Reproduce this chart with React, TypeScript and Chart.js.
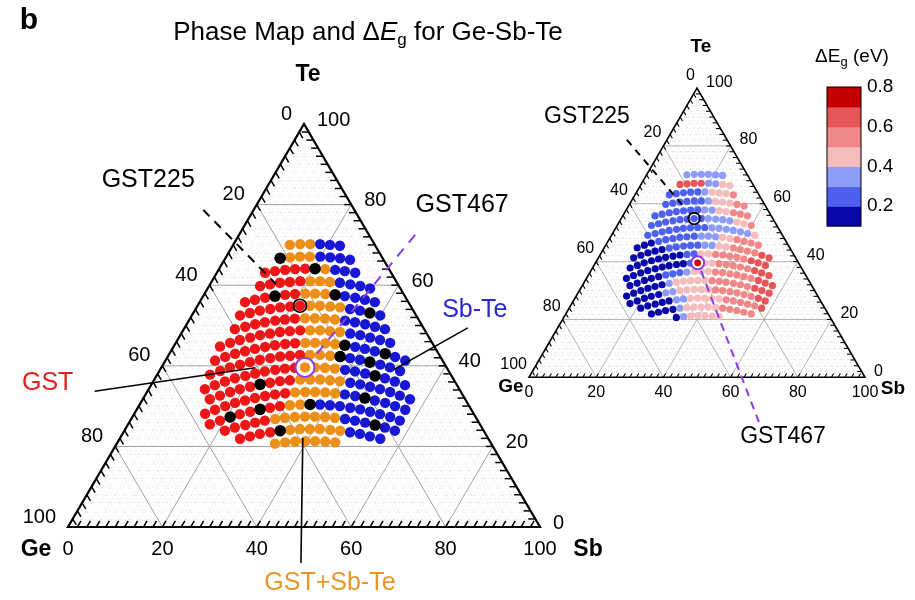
import React, { useEffect, useRef } from "react";
import { Chart, registerables } from "chart.js";

Chart.register(...registerables);

type Comp = [number, number]; // [Sb at.%, Te at.%]  (Ge = 100 - Sb - Te)

const row01: Comp[] = [[12.0,70.0],[14.1,70.2],[16.2,70.2],[18.3,70.2],[20.5,70.0],[22.7,69.8]];
const row02: Comp[] = [[11.6,66.7],[13.6,66.9],[15.6,67.1],[17.7,67.1],[19.9,67.1],[22.1,66.9],[24.3,66.7],[26.6,66.3]];
const row03: Comp[] = [[10.2,63.1],[12.1,63.5],[14.1,63.8],[16.1,64.0],[18.2,64.1],[20.3,64.1],[22.5,64.0],[24.7,63.8],[26.9,63.5],[29.3,63.1]];
const row04: Comp[] = [[10.8,59.8],[12.7,60.2],[14.6,60.6],[16.6,60.8],[18.7,61.0],[20.8,61.0],[22.9,61.0],[25.1,60.8],[27.3,60.6],[29.7,60.2],[32.0,59.8],[34.4,59.2]];
const row05: Comp[] = [[9.6,55.8],[11.4,56.4],[13.3,56.9],[15.2,57.3],[17.2,57.6],[19.2,57.8],[21.3,57.9],[23.4,57.9],[25.6,57.8],[27.8,57.6],[30.0,57.3],[32.4,56.9],[34.7,56.4],[37.1,55.8]];
const row06: Comp[] = [[10.2,52.5],[12.0,53.1],[13.8,53.7],[15.8,54.1],[17.7,54.5],[19.7,54.7],[21.7,54.9],[23.8,54.9],[25.9,54.9],[28.2,54.7],[30.4,54.5],[32.7,54.1],[35.0,53.7],[37.4,53.1],[39.9,52.5]];
const row07: Comp[] = [[10.8,49.1],[12.7,49.7],[14.5,50.3],[16.3,50.8],[18.3,51.2],[20.2,51.5],[22.2,51.7],[24.3,51.8],[26.4,51.8],[28.6,51.7],[30.8,51.5],[33.1,51.2],[35.4,50.8],[37.8,50.3],[40.2,49.7],[42.6,49.1]];
const row08: Comp[] = [[9.8,44.8],[11.5,45.7],[13.2,46.4],[15.1,47.0],[16.9,47.6],[18.8,48.0],[20.7,48.4],[22.7,48.6],[24.8,48.8],[26.9,48.8],[29.0,48.8],[31.2,48.6],[33.4,48.4],[35.8,48.0],[38.1,47.6],[40.5,47.0],[42.9,46.4],[45.4,45.7]];
const row09: Comp[] = [[10.5,41.3],[12.2,42.2],[13.9,43.0],[15.7,43.6],[17.5,44.2],[19.4,44.7],[21.3,45.1],[23.3,45.4],[25.3,45.6],[27.4,45.7],[29.5,45.7],[31.7,45.6],[33.9,45.4],[36.1,45.1],[38.5,44.7],[40.8,44.2],[43.2,43.6],[45.7,43.0],[48.2,42.2],[50.8,41.3]];
const row10: Comp[] = [[11.2,37.8],[12.9,38.7],[14.5,39.6],[16.3,40.3],[18.1,40.9],[19.9,41.5],[21.9,41.9],[23.8,42.3],[25.8,42.5],[27.8,42.7],[29.9,42.7],[32.0,42.7],[34.3,42.5],[36.5,42.3],[38.8,41.9],[41.1,41.5],[43.5,40.9],[46.0,40.3],[48.4,39.6],[51.0,38.7]];
const row11: Comp[] = [[11.9,34.2],[13.5,35.2],[15.2,36.1],[16.9,36.9],[18.8,37.5],[20.6,38.1],[22.4,38.6],[24.4,39.0],[26.3,39.3],[28.3,39.5],[30.4,39.6],[32.5,39.6],[34.7,39.5],[36.9,39.3],[39.2,39.0],[41.5,38.6],[43.9,38.1],[46.3,37.5],[48.7,36.9],[51.2,36.1],[53.8,35.2]];
const row12: Comp[] = [[14.2,31.7],[15.9,32.6],[17.6,33.5],[19.3,34.2],[21.2,34.8],[23.0,35.4],[24.9,35.8],[26.8,36.2],[28.8,36.4],[30.9,36.6],[33.0,36.6],[35.1,36.6],[37.3,36.4],[39.5,36.2],[41.9,35.8],[44.2,35.4],[46.6,34.8],[49.0,34.2],[51.5,33.5],[54.0,32.6],[56.6,31.7]];
const row13: Comp[] = [[15.0,28.1],[16.6,29.1],[18.3,30.0],[20.0,30.8],[21.8,31.4],[23.6,32.0],[25.5,32.5],[27.4,32.9],[29.4,33.2],[31.4,33.4],[33.5,33.5],[35.6,33.5],[37.8,33.4],[40.0,33.2],[42.2,32.9],[44.6,32.5],[46.9,32.0],[49.3,31.4],[51.8,30.8],[54.3,30.0],[56.9,29.1]];
const row14: Comp[] = [[17.3,25.5],[19.0,26.4],[20.7,27.3],[22.4,28.0],[24.3,28.6],[26.1,29.2],[28.0,29.6],[29.9,30.0],[31.9,30.2],[34.0,30.4],[36.1,30.4],[38.2,30.4],[40.4,30.2],[42.6,30.0],[45.0,29.6],[47.3,29.2],[49.7,28.6],[52.1,28.0],[54.6,27.3],[57.1,26.4]];
const row15: Comp[] = [[21.3,23.9],[23.0,24.7],[24.9,25.3],[26.7,25.9],[28.5,26.4],[30.5,26.8],[32.4,27.1],[34.4,27.3],[36.5,27.4],[38.6,27.4],[40.8,27.3],[43.0,27.1],[45.3,26.8],[47.6,26.4],[50.0,25.9],[52.4,25.3],[54.8,24.7],[57.3,23.9]];
const row16: Comp[] = [[25.5,21.9],[27.3,22.5],[29.1,23.1],[31.1,23.5],[33.0,23.9],[35.0,24.1],[37.0,24.3],[39.1,24.3],[41.2,24.3],[43.5,24.1],[45.7,23.9],[48.0,23.5],[50.3,23.1],[52.7,22.5],[55.2,21.9]];
const row17: Comp[] = [[33.5,20.7],[35.5,21.0],[37.5,21.2],[39.6,21.3],[41.7,21.3],[43.9,21.2],[46.1,21.0]];

const compositionRows: Comp[][] = [row01,row02,row03,row04,row05,row06,row07,row08,row09,row10,row11,row12,row13,row14,row15,row16,row17];

// phase per point: R = GST, O = GST+Sb-Te, B = Sb-Te, K = unassigned (black)
const phaseRows: string[] = [
  "OOOBBB",
  "KOOOBBBB",
  "RRRRRKOBBB",
  "RRRRROOOBBBB",
  "RRRKRROOOKBBBB",
  "RRRRRRROOOOBBKB",
  "RRRRRRROOOOBBBBB",
  "RRRRRRRRROOOOBBBBB",
  "RRRRRRRRROOOOKBBBKBB",
  "RRRRRRRRRROOOKBBKBBB",
  "RRRRRRRRRROOOOBBBKBBB",
  "RRRRRKRRROOOOOBBBBBBB",
  "RRRRRRRRROOOOOBBKBBBB",
  "RRKRRKRROOKBBBBBBBBB",
  "RRRRROOOOOOOBBBKBB",
  "RRRRKOOOOOOBBBB",
  "OOOOOOO",
];

// band-gap change ΔEg (eV) per point
const deltaEgRows: number[][] = [
  [0.33,0.34,0.35,0.36,0.37,0.38],
  [0.66,0.67,0.65,0.62,0.36,0.35,0.43,0.45],
  [0.28,0.27,0.27,0.28,0.29,0.31,0.43,0.47,0.48,0.50],
  [0.26,0.26,0.27,0.27,0.28,0.29,0.31,0.44,0.47,0.49,0.51,0.53],
  [0.25,0.26,0.26,0.27,0.27,0.28,0.29,0.31,0.36,0.45,0.48,0.50,0.52,0.54],
  [0.24,0.25,0.26,0.27,0.27,0.28,0.29,0.29,0.30,0.31,0.33,0.37,0.45,0.48,0.51],
  [0.20,0.23,0.25,0.26,0.27,0.28,0.28,0.29,0.29,0.30,0.31,0.32,0.34,0.36,0.38,0.42],
  [0.15,0.16,0.17,0.21,0.24,0.26,0.27,0.28,0.29,0.30,0.31,0.36,0.45,0.48,0.51,0.53,0.55,0.57],
  [0.13,0.14,0.15,0.16,0.18,0.21,0.24,0.26,0.27,0.29,0.31,0.35,0.46,0.49,0.52,0.54,0.56,0.58,0.61,0.63],
  [0.12,0.13,0.14,0.14,0.15,0.16,0.17,0.18,0.22,0.26,0.47,0.49,0.51,0.53,0.55,0.56,0.58,0.60,0.62,0.64],
  [0.12,0.12,0.13,0.14,0.14,0.15,0.16,0.17,0.19,0.25,0.78,0.47,0.49,0.51,0.53,0.55,0.57,0.59,0.61,0.62,0.64],
  [0.12,0.12,0.13,0.14,0.15,0.22,0.25,0.28,0.33,0.45,0.46,0.48,0.50,0.52,0.54,0.55,0.57,0.58,0.60,0.62,0.64],
  [0.11,0.12,0.13,0.14,0.15,0.17,0.31,0.43,0.45,0.46,0.47,0.49,0.51,0.52,0.54,0.55,0.57,0.58,0.60,0.61,0.63],
  [0.11,0.12,0.13,0.14,0.16,0.31,0.37,0.43,0.45,0.46,0.47,0.48,0.50,0.51,0.53,0.55,0.56,0.58,0.60,0.62],
  [0.11,0.12,0.13,0.15,0.17,0.34,0.38,0.44,0.45,0.46,0.47,0.48,0.50,0.52,0.54,0.56,0.58,0.60],
  [0.12,0.13,0.15,0.17,0.36,0.43,0.45,0.46,0.47,0.48,0.50,0.52,0.54,0.56,0.58],
  [0.16,0.35,0.43,0.45,0.46,0.47,0.49],
];

const gst225: Comp = [21.7, 54.9];
const gst467: Comp = [30.4, 39.6];
const gst467DeltaEg = 0.78;

const axisTickValues = [0, 20, 40, 60, 80, 100];
const colorbarTickValues = [0.2, 0.4, 0.6, 0.8];
const colorbarEdges = [0.1, 0.2, 0.3, 0.4, 0.5, 0.6, 0.7, 0.8];

// leader lines, in composition coordinates [Sb, Te]
const leaderLeftGST225: Comp[] = [[-10.7, 78.7], [13.9, 60.3]];
const leaderLeftGST467: Comp[] = [[37.3, 72.5], [31.0, 41.9]];
const leaderLeftGST: Comp[] = [[-11.2, 33.7], [19.9, 39.5]];
const leaderLeftSbTe: Comp[] = [[49.4, 39.0], [60.0, 49.4]];
const leaderLeftMixed: Comp[] = [[38.7, 22.1], [53.8, -8.9]];
const leaderRightGST225: Comp[] = [[-11.9, 82.1], [16.7, 58.9]];
const leaderRightGST467: Comp[] = [[32.8, 36.8], [77.0, -16.5]];

// ---- styling / layout ----
const FONT = '"Liberation Sans", Arial, Helvetica, sans-serif';
const PHASE_COLORS: Record<string, string> = {
  R: "rgb(238,22,22)",
  O: "rgb(236,143,24)",
  B: "rgb(24,24,212)",
  K: "rgb(0,0,0)",
};
const BIN_COLORS = [
  "rgb(8,8,170)",
  "rgb(78,96,238)",
  "rgb(142,156,248)",
  "rgb(245,188,188)",
  "rgb(240,136,136)",
  "rgb(231,86,86)",
  "rgb(196,0,0)",
];
const PURPLE = "rgb(140,60,225)";

const VIEW = { xMin: -14.407, xMax: 179.449, yMin: -18.114, yMax: 130.77 };
type Tri = { x0: number; y0: number; sx: number; sy: number };
const LEFT_TRI: Tri = { x0: 0, y0: 0, sx: 1, sy: 1 };
const RIGHT_TRI: Tri = { x0: 97.669, y0: 37.146, sx: 0.71186, sy: 0.7176 };

const LEFT_STYLE = {
  edge: 2.2, tick: 7, tickW: 1.5, major: 1.0, labelSize: 20,
  bottomOff: 22, leftOff: [-12, -10], rightOff: [13, -4],
};
const RIGHT_STYLE = {
  edge: 1.6, tick: 4.5, tickW: 1.1, major: 0.8, labelSize: 16,
  bottomOff: 15, leftOff: [-2, -13], rightOff: [9, -6],
};

function cart(tri: Tri, sb: number, te: number) {
  return { x: tri.x0 + tri.sx * (sb + te / 2), y: tri.y0 + tri.sy * te };
}

function binColor(v: number) {
  let i = Math.floor((v - colorbarEdges[0]) / 0.1 + 1e-9);
  i = Math.max(0, Math.min(BIN_COLORS.length - 1, i));
  return BIN_COLORS[i];
}

type Part = { t: string; size: number; italic?: boolean; bold?: boolean; dy?: number };
function fontOf(p: Part) {
  return `${p.italic ? "italic " : ""}${p.bold ? "bold " : ""}${p.size}px ${FONT}`;
}
function drawRich(ctx: CanvasRenderingContext2D, parts: Part[], cx: number, cy: number, color = "#000") {
  let total = 0;
  for (const p of parts) { ctx.font = fontOf(p); total += ctx.measureText(p.t).width; }
  let x = cx - total / 2;
  ctx.fillStyle = color;
  ctx.textAlign = "left";
  ctx.textBaseline = "middle";
  for (const p of parts) {
    ctx.font = fontOf(p);
    ctx.fillText(p.t, x, cy + (p.dy || 0));
    x += ctx.measureText(p.t).width;
  }
}
function text(ctx: CanvasRenderingContext2D, s: string, x: number, y: number, size: number,
  align: CanvasTextAlign = "center", color = "#000", bold = false) {
  ctx.font = `${bold ? "bold " : ""}${size}px ${FONT}`;
  ctx.fillStyle = color;
  ctx.textAlign = align;
  ctx.textBaseline = "middle";
  ctx.fillText(s, x, y);
}

function makeMapper(chart: any, tri: Tri) {
  const xs = chart.scales.x, ys = chart.scales.y;
  return (sb: number, te: number): [number, number] => {
    const p = cart(tri, sb, te);
    return [xs.getPixelForValue(p.x), ys.getPixelForValue(p.y)];
  };
}

function drawFrame(ctx: CanvasRenderingContext2D, map: (a: number, b: number) => [number, number], st: typeof LEFT_STYLE) {
  const seg = (a: [number, number], b: [number, number]) => {
    ctx.beginPath(); ctx.moveTo(a[0], a[1]); ctx.lineTo(b[0], b[1]); ctx.stroke();
  };
  ctx.save();
  // minor grid
  ctx.strokeStyle = "rgba(0,0,0,0.15)";
  ctx.lineWidth = 0.6;
  ctx.setLineDash([1.5, 2.5]);
  for (let v = 2; v < 100; v += 2) {
    if (v % 20 === 0) continue;
    seg(map(0, v), map(100 - v, v));
    seg(map(v, 0), map(v, 100 - v));
    seg(map(100 - v, 0), map(0, 100 - v));
  }
  // major grid
  ctx.setLineDash([]);
  ctx.strokeStyle = "rgb(160,160,160)";
  ctx.lineWidth = st.major;
  for (const v of [20, 40, 60, 80]) {
    seg(map(0, v), map(100 - v, v));
    seg(map(v, 0), map(v, 100 - v));
    seg(map(100 - v, 0), map(0, 100 - v));
  }
  // ticks (pointing inward along the grid directions)
  ctx.strokeStyle = "#000";
  ctx.lineWidth = st.tickW;
  const tick = (a: [number, number], b: [number, number]) => {
    const dx = b[0] - a[0], dy = b[1] - a[1];
    const L = Math.hypot(dx, dy) || 1;
    seg(a, [a[0] + (dx / L) * st.tick, a[1] + (dy / L) * st.tick]);
  };
  for (let v = 2; v < 100; v += 2) {
    tick(map(v, 0), map(v, 1));
    tick(map(0, 100 - v), map(1, 99 - v));
    tick(map(100 - v, v), map(99 - v, v));
  }
  // edges
  ctx.lineWidth = st.edge;
  ctx.lineJoin = "miter";
  const a = map(0, 0), b = map(100, 0), c = map(0, 100);
  ctx.beginPath(); ctx.moveTo(a[0], a[1]); ctx.lineTo(b[0], b[1]); ctx.lineTo(c[0], c[1]); ctx.closePath(); ctx.stroke();
  ctx.restore();
}

function drawTickLabels(ctx: CanvasRenderingContext2D, map: (a: number, b: number) => [number, number], st: typeof LEFT_STYLE) {
  for (const v of axisTickValues) {
    const pb = map(v, 0);
    text(ctx, String(v), pb[0], pb[1] + st.bottomOff, st.labelSize, "center");
    const pl = map(0, 100 - v);
    text(ctx, String(v), pl[0] + st.leftOff[0], pl[1] + st.leftOff[1], st.labelSize, "right");
    const pr = map(100 - v, v);
    text(ctx, String(v), pr[0] + st.rightOff[0], pr[1] + st.rightOff[1], st.labelSize, "left");
  }
}

const ternaryPlugin = {
  id: "ternaryFrame",
  beforeDatasetsDraw(chart: any) {
    const ctx = chart.ctx as CanvasRenderingContext2D;
    drawFrame(ctx, makeMapper(chart, LEFT_TRI), LEFT_STYLE);
    drawFrame(ctx, makeMapper(chart, RIGHT_TRI), RIGHT_STYLE);
  },
  afterDatasetsDraw(chart: any) {
    const ctx = chart.ctx as CanvasRenderingContext2D;
    ctx.save();
    const mL = makeMapper(chart, LEFT_TRI);
    const mR = makeMapper(chart, RIGHT_TRI);
    drawTickLabels(ctx, mL, LEFT_STYLE);
    drawTickLabels(ctx, mR, RIGHT_STYLE);

    // panel letter & title
    text(ctx, "b", 29, 21, 30, "center", "#000", true);
    drawRich(ctx, [
      { t: "Phase Map and Δ", size: 26 },
      { t: "E", size: 26, italic: true },
      { t: "g", size: 17, dy: 7 },
      { t: " for Ge-Sb-Te", size: 26 },
    ], 368, 33);

    // vertex names
    const lTop = mL(0, 100), lGe = mL(0, 0), lSb = mL(100, 0);
    text(ctx, "Te", lTop[0] + 4, lTop[1] - 49, 23, "center", "#000", true);
    text(ctx, "Ge", lGe[0] - 32, lGe[1] + 23, 23, "center", "#000", true);
    text(ctx, "Sb", lSb[0] + 48, lSb[1] + 23, 23, "center", "#000", true);
    const rTop = mR(0, 100), rGe = mR(0, 0), rSb = mR(100, 0);
    text(ctx, "Te", rTop[0] + 4, rTop[1] - 41, 19, "center", "#000", true);
    text(ctx, "Ge", rGe[0] - 18, rGe[1] + 9, 19, "center", "#000", true);
    text(ctx, "Sb", rSb[0] + 28, rSb[1] + 11, 19, "center", "#000", true);

    // annotation labels (at the free ends of the leader lines)
    const e1 = mL(leaderLeftGST225[0][0], leaderLeftGST225[0][1]);
    text(ctx, "GST225", e1[0] - 55, e1[1] - 30, 25);
    const e2 = mL(leaderLeftGST467[0][0], leaderLeftGST467[0][1]);
    text(ctx, "GST467", e2[0] + 47, e2[1] - 30, 25);
    const e3 = mL(leaderLeftGST[0][0], leaderLeftGST[0][1]);
    text(ctx, "GST", e3[0] - 47, e3[1] - 8, 25, "center", "rgb(230,30,30)");
    const e4 = mL(leaderLeftSbTe[1][0], leaderLeftSbTe[1][1]);
    text(ctx, "Sb-Te", e4[0] + 7, e4[1] - 18, 25, "center", "rgb(40,40,215)");
    const e5 = mL(leaderLeftMixed[1][0], leaderLeftMixed[1][1]);
    text(ctx, "GST+Sb-Te", e5[0] + 29, e5[1] + 20, 25, "center", "rgb(232,150,40)");
    const e6 = mR(leaderRightGST225[0][0], leaderRightGST225[0][1]);
    text(ctx, "GST225", e6[0] - 40, e6[1] - 23, 23);
    const e7 = mR(leaderRightGST467[1][0], leaderRightGST467[1][1]);
    text(ctx, "GST467", e7[0] + 23, e7[1] + 12, 23);

    // colour bar
    const cb = { left: 827, top: 87, width: 34, height: 139 };
    const lo = colorbarEdges[0], hi = colorbarEdges[colorbarEdges.length - 1];
    const yOf = (v: number) => cb.top + ((hi - v) / (hi - lo)) * cb.height;
    for (let i = 0; i < colorbarEdges.length - 1; i++) {
      const y1 = yOf(colorbarEdges[i + 1]), y0 = yOf(colorbarEdges[i]);
      ctx.fillStyle = BIN_COLORS[i];
      ctx.fillRect(cb.left, y1, cb.width, y0 - y1 + 0.5);
    }
    ctx.strokeStyle = "#000";
    ctx.lineWidth = 1;
    ctx.strokeRect(cb.left, cb.top, cb.width, cb.height);
    for (const v of colorbarTickValues) {
      text(ctx, v.toFixed(1), cb.left + cb.width + 6, yOf(v), 19, "left");
    }
    drawRich(ctx, [
      { t: "ΔE", size: 19 },
      { t: "g", size: 13, dy: 5 },
      { t: " (eV)", size: 19 },
    ], 852, 57);
    ctx.restore();
  },
};

function buildDatasets() {
  const byPhase: Record<string, { x: number; y: number }[]> = { R: [], O: [], B: [], K: [] };
  const rightPts: { x: number; y: number }[] = [];
  const rightCols: string[] = [];
  compositionRows.forEach((row, i) => {
    row.forEach((c, j) => {
      byPhase[phaseRows[i][j]].push(cart(LEFT_TRI, c[0], c[1]));
      rightPts.push(cart(RIGHT_TRI, c[0], c[1]));
      rightCols.push(binColor(deltaEgRows[i][j]));
    });
  });
  const pts = (ch: string, label: string, r: number, order: number) => ({
    label,
    data: byPhase[ch],
    backgroundColor: PHASE_COLORS[ch],
    borderWidth: 0,
    pointRadius: r,
    order,
  });
  const lead = (tri: Tri, arr: Comp[], color: string, dash: number[], w: number) => ({
    type: "line" as const,
    data: arr.map((c) => cart(tri, c[0], c[1])),
    borderColor: color,
    borderWidth: w,
    borderDash: dash,
    pointRadius: 0,
    showLine: true,
    fill: false,
    order: 1,
  });
  const ring = (p: { x: number; y: number }, color: string, r: number, w: number, fill: string, order: number) => ({
    data: [p],
    backgroundColor: fill,
    borderColor: color,
    borderWidth: w,
    pointRadius: r,
    order,
  });
  return [
    pts("R", "GST", 5.2, 6),
    pts("O", "GST+Sb-Te", 5.2, 6),
    pts("B", "Sb-Te", 5.2, 6),
    pts("K", "unassigned", 5.8, 5),
    {
      label: "ΔEg",
      data: rightPts,
      backgroundColor: rightCols,
      borderWidth: 0,
      pointRadius: 3.6,
      order: 6,
    },
    lead(LEFT_TRI, leaderLeftGST225, "#000", [9, 7], 2),
    lead(LEFT_TRI, leaderLeftGST467, PURPLE, [10, 8], 2),
    lead(LEFT_TRI, leaderLeftGST, "#000", [], 1.6),
    lead(LEFT_TRI, leaderLeftSbTe, "#000", [], 1.6),
    lead(LEFT_TRI, leaderLeftMixed, "#000", [], 1.6),
    lead(RIGHT_TRI, leaderRightGST225, "#000", [7, 6], 2),
    lead(RIGHT_TRI, leaderRightGST467, PURPLE, [8, 6], 2),
    ring(cart(LEFT_TRI, gst225[0], gst225[1]), "#000", 6.5, 1.6, "rgba(0,0,0,0)", 0),
    ring(cart(LEFT_TRI, gst467[0], gst467[1]), PURPLE, 9.5, 2, "#fff", 3),
    ring(cart(LEFT_TRI, gst467[0], gst467[1]), PHASE_COLORS.O, 5.2, 0, PHASE_COLORS.O, 2),
    ring(cart(RIGHT_TRI, gst225[0], gst225[1]), "#000", 5.8, 1.8, "rgba(0,0,0,0)", 0),
    ring(cart(RIGHT_TRI, gst467[0], gst467[1]), PURPLE, 6.5, 2, "#fff", 3),
    ring(cart(RIGHT_TRI, gst467[0], gst467[1]), binColor(gst467DeltaEg), 3.4, 0, binColor(gst467DeltaEg), 2),
  ];
}

export default function App() {
  const ref = useRef<HTMLCanvasElement | null>(null);
  useEffect(() => {
    if (!ref.current) return;
    const chart = new Chart(ref.current, {
      type: "scatter",
      data: { datasets: buildDatasets() as any },
      options: {
        responsive: false,
        animation: false,
        devicePixelRatio: 1,
        events: [],
        layout: { padding: 0, autoPadding: false },
        plugins: {
          legend: { display: false },
          tooltip: { enabled: false },
          title: { display: false },
        },
        scales: {
          x: { type: "linear", min: VIEW.xMin, max: VIEW.xMax, display: false },
          y: { type: "linear", min: VIEW.yMin, max: VIEW.yMax, display: false },
        },
      } as any,
      plugins: [ternaryPlugin],
    });
    return () => chart.destroy();
  }, []);
  return (
    <div style={{ position: "fixed", left: 0, top: 0, width: 915, height: 600, background: "#fff" }}>
      <canvas ref={ref} width={915} height={600} style={{ display: "block", width: 915, height: 600 }} />
    </div>
  );
}
